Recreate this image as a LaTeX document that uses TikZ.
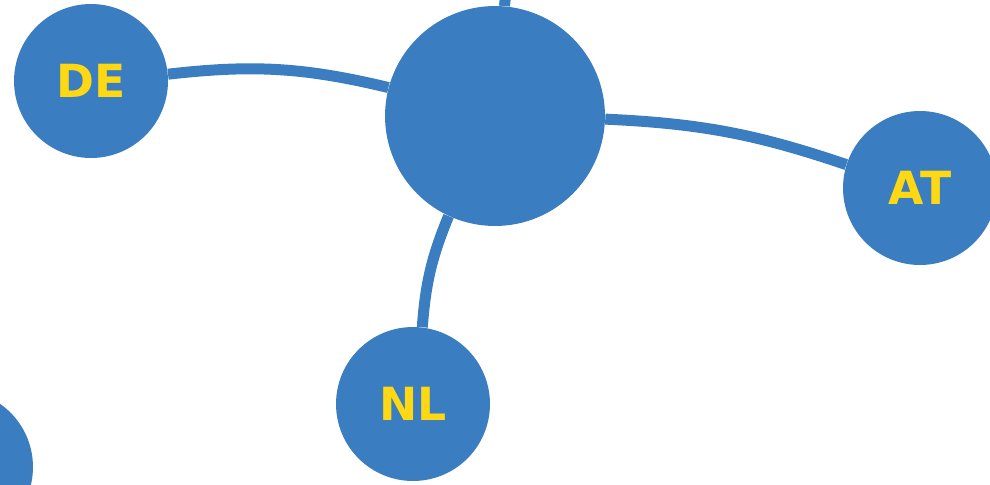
\documentclass[tikz,border=0pt]{standalone}
\usepackage{fontspec}
\newfontfamily\countryfont{DejaVu Sans}
\definecolor{nodeblue}{RGB}{58,125,192}
\definecolor{labelgold}{RGB}{255,216,20}

\begin{document}
\begin{tikzpicture}[x=0.02cm,y=-0.02cm]
    \tikzstyle{country}=[circle,fill=nodeblue,minimum size=3.08cm,inner sep=0pt,text=labelgold,font=\countryfont\bfseries\fontsize{26}{26}\selectfont]
    \tikzstyle{hub}=[country,minimum size=4.4cm]
    \tikzstyle{every edge}=[draw=nodeblue,line width=0.22cm]

    \clip (0,0) rectangle (990,484);

    \node[hub]     (c)  at (495,116) {};
    \node[country] (de) at (91,81)   {DE};
    \node[country] (at) at (920,188) {AT};
    \node[country] (nl) at (413,404) {NL};
    \node[country] (nb) at (-44,467) {};
    \coordinate    (up) at (512,-80);

    \path
    (de) edge [bend left=10] (c)
    (c)  edge [bend left=8]  (at)
         edge [bend right=9] (nl)
         edge                (up);
\end{tikzpicture}
\end{document}
